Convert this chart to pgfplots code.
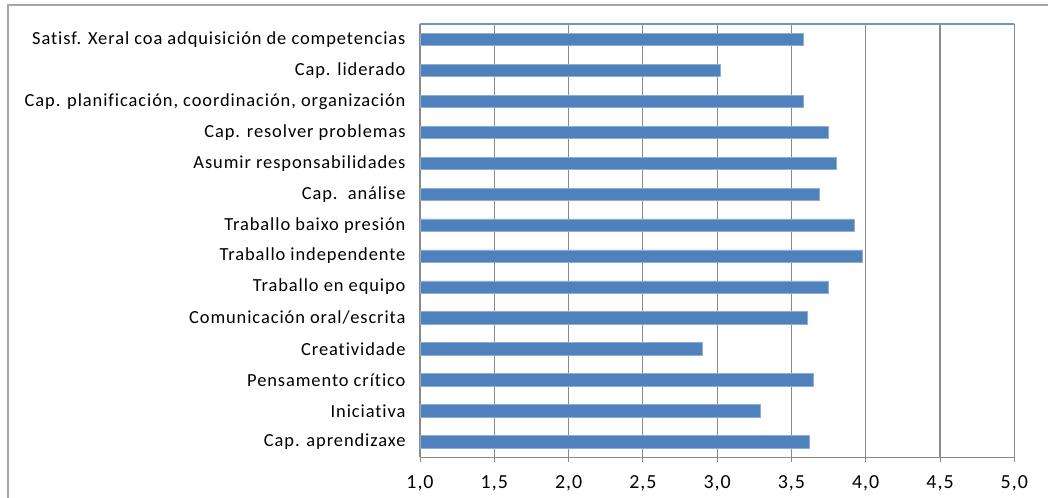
\documentclass[border=0pt]{standalone}
\usepackage{fontspec}
\setmainfont{Carlito}[LetterSpace=5, Ligatures=NoCommon]
\usepackage{pgfplots}
\pgfplotsset{compat=1.18}
\definecolor{barblue}{HTML}{4F81BD}
\definecolor{baredge}{HTML}{8EAEDA}
\definecolor{gridgray}{HTML}{8A8A8A}
\definecolor{frameblue}{HTML}{6E97C8}
\definecolor{outerframe}{HTML}{A6A6A6}
\begin{document}
\begin{tikzpicture}[x=1bp,y=1bp]
\useasboundingbox (0,0) rectangle (1048,498);
\draw[outerframe, line width=1.5bp] (8,0) -- (8,493) -- (1048,493);
\begin{axis}[
  at={(420bp,40.7bp)}, anchor=south west,
  scale only axis, width=594.3bp, height=433.4bp,
  xbar, bar width=12.3bp,
  xmin=1, xmax=5, ymin=-0.5, ymax=13.5,
  xtick={1,1.5,2,2.5,3,3.5,4,4.5,5},
  ytick={0,...,13},
  yticklabels={Cap. aprendizaxe, Iniciativa, Pensamento crítico, Creatividade, Comunicación oral/escrita, Traballo en equipo, Traballo independente, Traballo baixo presión, Cap.\ \ análise, Asumir responsabilidades, Cap. resolver problemas, {Cap. planificación, coordinación, organización}, Cap. liderado, Satisf. Xeral coa adquisición de competencias},
  extra y ticks={-0.5,0.5,...,13.5},
  extra y tick labels={},
  extra y tick style={major tick length=7bp, tick style={gridgray, line width=1bp}},
  ytick style={draw=none},
  axis lines=left,
  axis line style={-, gridgray, line width=1.3bp},
  xmajorgrids,
  grid style={gridgray, line width=1.2bp},
  tick align=outside,
  major tick length=5bp,
  xtick style={gridgray, line width=1bp},
  yticklabel style={font=\fontsize{18.5}{20}\selectfont, anchor=east, xshift=-6bp},
  xticklabel style={font=\fontsize{20}{22}\selectfont, yshift=-10bp},
  /pgf/number format/.cd, use comma, fixed, fixed zerofill, precision=1, assume math mode=true,
]
\addplot[fill=barblue, draw=baredge, line width=0.7bp] coordinates {
(3.62,0) (3.29,1) (3.65,2) (2.90,3) (3.61,4) (3.75,5) (3.98,6)
(3.92,7) (3.69,8) (3.80,9) (3.75,10) (3.58,11) (3.02,12) (3.58,13)};
\draw[frameblue, line width=1.5bp] (rel axis cs:0,1) -- (rel axis cs:1,1) -- (rel axis cs:1,0);
\end{axis}
\end{tikzpicture}
\end{document}
